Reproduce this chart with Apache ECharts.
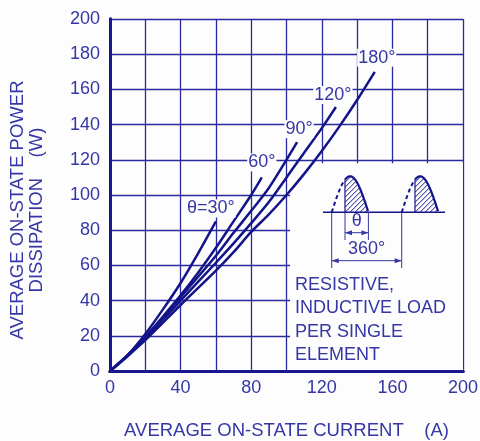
<!DOCTYPE html>
<html>
<head>
<meta charset="utf-8">
<script src="https://cdn.jsdelivr.net/npm/echarts@6/dist/echarts.min.js"></script>
<style>html,body{margin:0;padding:0;background:#fdfdfd}#c{width:480px;height:441px}</style>
</head>
<body>
<div id="c"></div>
<script>
// ---- data ----
const curveNames = ['θ=30°', '60°', '90°', '120°', '180°'];
const curve30  = [[0,0],[10,9],[20,21],[30,35],[40,50],[50,67],[60,85]];
const curve60  = [[0,0],[10,9],[20,19.5],[30,31],[40,43],[50,56],[60,70],[70,85],[80,100],[86,110]];
const curve90  = [[0,0],[10,9],[20,19],[40,42],[60,65.5],[70,78.5],[80,91],[90,104],[100,120],[106,130]];
const curve120 = [[0,0],[10,8.5],[20,18.5],[40,40],[60,61.5],[70,72.5],[80,84],[90,96],[100,110],[110,124],[120,138],[128,150]];
const curve180 = [[0,0],[10,8.5],[20,17.5],[40,37.5],[60,57],[70,67.5],[80,79],[90,89],[100,100],[110,112],[120,125],[130,139],[140,154],[150,170]];
const xTickLabels = [0, 40, 80, 120, 160, 200];
const yTickLabels = [0, 20, 40, 60, 80, 100, 120, 140, 160, 180, 200];
const insetArea = [[102, 118], [200, 0]];
const noteLines = ['RESISTIVE,', 'INDUCTIVE LOAD', 'PER SINGLE', 'ELEMENT'];
const yTitleLines = ['AVERAGE ON-STATE POWER', 'DISSIPATION    (W)'];
const xTitle = 'AVERAGE ON-STATE CURRENT    (A)';

// ---- styles ----
const FONT = '"Liberation Sans", Arial, Helvetica, sans-serif';
const TXT = '#3636a6';
const CURVE = '#14148a';
const GRIDC = '#2a2aa0';
const BORDER = '#18188e';
const BG = '#fdfdfd';
const labelOffsets = [[-5,-13],[0,-15],[2,-13],[-3,-12],[2,-14]];

const curves = [curve30, curve60, curve90, curve120, curve180];

const series = curves.map((d, i) => ({
  type: 'line', name: curveNames[i], data: d, smooth: 0.3, showSymbol: false, z: 3,
  lineStyle: {color: CURVE, width: 2.5}, silent: true,
  markPoint: {
    symbol: 'circle', symbolSize: 0.1, itemStyle: {color: 'rgba(0,0,0,0)'},
    data: [{coord: d[d.length - 1], value: curveNames[i]}],
    label: {show: true, position: 'inside', offset: labelOffsets[i], formatter: curveNames[i],
      color: TXT, fontSize: 18, fontFamily: FONT, backgroundColor: BG, padding: [0, 1]}
  }
}));
series.unshift({
  type: 'line', data: [], z: 1, silent: true,
  markArea: {silent: true, itemStyle: {color: BG}, data: [[{coord: insetArea[0]}, {coord: insetArea[1]}]]}
});

// ---- inset waveform (schematic) ----
const base = 212.3, H = 36, Wd = 36.7, cut = 13.3, x0s = [331.7, 401.7];
const hy = (x, x0) => base - H * Math.sin(Math.PI * (x - x0) / Wd);
const g = [];
const line = (x1,y1,x2,y2,w,c,dash) => g.push({type:'line', z:10, shape:{x1,y1,x2,y2}, style:{stroke:c||CURVE, lineWidth:w||1.2, lineDash:dash}});
const arrow = (x,y,dir) => g.push({type:'polygon', z:10, shape:{points:[[x,y],[x-dir*7,y-2.5],[x-dir*7,y+2.5]]}, style:{fill:TXT}});
line(323, base, 445, base, 1.5, CURVE);
x0s.forEach(x0 => {
  const dashed = [], solid = [];
  for (let x = x0; x <= x0 + cut + 0.01; x += 0.5) dashed.push([x, hy(x, x0)]);
  for (let x = x0 + cut; x <= x0 + Wd + 0.01; x += 0.5) solid.push([x, hy(x, x0)]);
  g.push({type:'polyline', z:10, shape:{points:dashed}, style:{stroke:CURVE, lineWidth:2, lineDash:[4,3], fill:null}});
  g.push({type:'polyline', z:10, shape:{points:solid}, style:{stroke:CURVE, lineWidth:2.2, fill:null}});
  line(x0 + cut, hy(x0 + cut, x0), x0 + cut, base, 1.2, CURVE);
  for (let c = x0 + cut + base - 40; c < x0 + Wd + base + 5; c += 5) {
    let first = null, last = null;
    for (let x = x0 + cut; x <= x0 + Wd; x += 0.2) {
      const y = c - x;
      if (y <= base && y >= hy(x, x0)) { if (!first) first = [x, y]; last = [x, y]; }
    }
    if (first && last && (last[0] - first[0]) > 0.5) line(first[0], first[1], last[0], last[1], 1, CURVE);
  }
});
line(x0s[0], base, x0s[0], 268, 1, TXT);
line(x0s[1], base, x0s[1], 268, 1, TXT);
line(x0s[0] + cut, base, x0s[0] + cut, 240, 1, TXT);
line(x0s[0] + Wd, base, x0s[0] + Wd, 240, 1, TXT);
line(x0s[0] + cut, 232.7, x0s[0] + Wd, 232.7, 1, TXT);
arrow(x0s[0] + cut, 232.7, -1); arrow(x0s[0] + Wd, 232.7, 1);
line(x0s[0], 260.7, x0s[1], 260.7, 1, TXT);
arrow(x0s[0], 260.7, -1); arrow(x0s[1], 260.7, 1);
g.push({type:'text', z:10, x: x0s[0] + cut + (Wd - cut)/2, y: 221, style:{text:'θ', fill:TXT, font:'18px ' + FONT, textAlign:'center', textVerticalAlign:'middle'}});
g.push({type:'text', z:10, x: 366.7, y: 249.3, style:{text:'360°', fill:TXT, font:'18px ' + FONT, textAlign:'center', textVerticalAlign:'middle'}});
g.push({type:'text', z:10, x: 295, y: 273.5, style:{text: noteLines.join('\n'), fill:TXT, font:'18px ' + FONT, lineHeight: 23.3, textAlign:'left', textVerticalAlign:'top'}});
g.push({type:'text', z:10, x: 27.5, y: 210, rotation: Math.PI / 2,
  style:{text: yTitleLines.join('\n'), fill:TXT, font:'18.5px ' + FONT, lineHeight: 19.5, textAlign:'center', textVerticalAlign:'middle'}});

const borderAxis = {show: true, lineStyle: {color: BORDER, width: 3}};
const option = {
  backgroundColor: BG,
  animation: false,
  grid: {left: 110, right: 17, top: 19, bottom: 70, containLabel: false, outerBoundsMode: 'none'},
  xAxis: [
    {type:'value', min:0, max:200, interval:20, position:'bottom',
     axisLine: borderAxis, axisTick:{show:false},
     axisLabel:{color:TXT, fontSize:18, fontFamily:FONT, margin:8,
       formatter: v => xTickLabels.includes(v) ? String(v) : ''},
     splitLine:{show:true, lineStyle:{color:GRIDC, width:1.3}},
     name: xTitle, nameLocation:'middle', nameGap:50,
     nameTextStyle:{color:TXT, fontSize:18.5, fontFamily:FONT}},
    {type:'value', min:0, max:200, position:'top', z:5, axisLine: borderAxis, axisTick:{show:false}, axisLabel:{show:false}, splitLine:{show:false}},
    {type:'value', min:0, max:200, position:'bottom', z:5, axisLine: borderAxis, axisTick:{show:false}, axisLabel:{show:false}, splitLine:{show:false}}
  ],
  yAxis: [
    {type:'value', min:0, max:200, interval:20, position:'left',
     axisLine: borderAxis, axisTick:{show:false},
     axisLabel:{color:TXT, fontSize:18, fontFamily:FONT, margin:10,
       formatter: v => yTickLabels.includes(v) ? String(v) : ''},
     splitLine:{show:true, lineStyle:{color:GRIDC, width:1.3}}},
    {type:'value', min:0, max:200, position:'right', z:5, axisLine: borderAxis, axisTick:{show:false}, axisLabel:{show:false}, splitLine:{show:false}},
    {type:'value', min:0, max:200, position:'left', z:5, axisLine: borderAxis, axisTick:{show:false}, axisLabel:{show:false}, splitLine:{show:false}}
  ],
  series: series,
  graphic: g
};
const chart = echarts.init(document.getElementById('c'), null, {renderer:'canvas'});
chart.setOption(option);
</script>
</body>
</html>
